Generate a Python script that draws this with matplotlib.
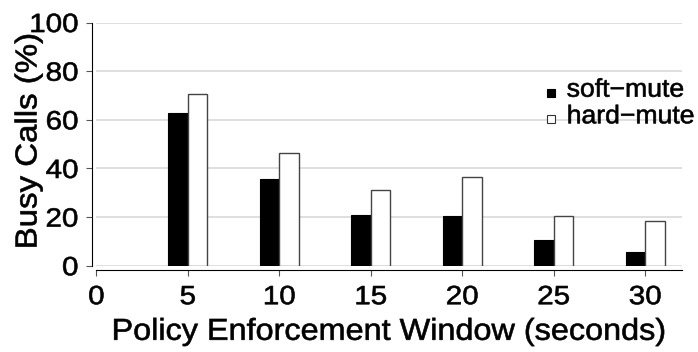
import matplotlib
matplotlib.use("Agg")

import matplotlib.pyplot as plt
import numpy as np
from matplotlib.patheffects import AbstractPathEffect
from matplotlib.transforms import Affine2D

# data
windows = [5, 10, 15, 20, 25, 30]
soft_mute = [63.0, 35.8, 20.9, 20.3, 10.4, 5.6]
hard_mute = [70.5, 46.5, 31.0, 36.6, 20.6, 18.4]
series_names = ["soft\u2212mute", "hard\u2212mute"]
x_ticks = [0, 5, 10, 15, 20, 25, 30]
y_ticks = [0, 20, 40, 60, 80, 100]

plt.rcParams["font.family"] = ["Liberation Sans", "DejaVu Sans"]


class Stretch(AbstractPathEffect):
    """widen glyphs along the text direction (the reference text is a bit wide)"""

    def __init__(self, sx=1.1, anchor="center", lw=0.45):
        super().__init__()
        self.sx = sx
        self.anchor = anchor
        self.lw = lw

    def draw_path(self, renderer, gc, tpath, affine, rgbFace=None):
        o = affine.transform([[0, 0], [1, 0]])
        theta = np.arctan2(o[1, 1] - o[0, 1], o[1, 0] - o[0, 0])
        bb = tpath.get_extents(affine)
        if self.anchor == "left":
            c = o[0]
        elif self.anchor == "right":
            c = (bb.x1, bb.y0)
        else:
            c = ((bb.x0 + bb.x1) / 2, (bb.y0 + bb.y1) / 2)
        st = (Affine2D().translate(-c[0], -c[1]).rotate(-theta)
              .scale(self.sx, 1).rotate(theta).translate(c[0], c[1]))
        gc0 = renderer.new_gc()
        gc0.copy_properties(gc)
        gc0.set_linewidth(self.lw)
        gc0.set_foreground(rgbFace)
        renderer.draw_path(gc0, tpath, affine + st, rgbFace)
        gc0.restore()


SX = 1.12

fig = plt.figure(figsize=(6.98, 3.52), dpi=100)
ax = fig.add_axes([0.138, 0.245, 0.8387, 0.691])

w = 1.07
x = np.array(windows, dtype=float)
ax.bar(x - w / 2, soft_mute, width=w, color="black", edgecolor="black",
       linewidth=0.8, zorder=3)
ax.bar(x + w / 2, hard_mute, width=w, color="white", edgecolor="#444444",
       linewidth=1.0, zorder=3)

# grid
for yv in y_ticks:
    ax.axhline(yv, color="#d6d6d6", linewidth=1.1, zorder=1)

ax.set_xlim(0, 32)
ax.set_ylim(0, 100)
ax.set_xticks(x_ticks)
ax.set_yticks(y_ticks)

for s in ["top", "right"]:
    ax.spines[s].set_visible(False)
ax.spines["left"].set_position(("outward", 3))
ax.spines["bottom"].set_position(("outward", 3))
ax.spines["left"].set_bounds(0, 100)
ax.spines["bottom"].set_bounds(0, 32)
ax.tick_params(axis="both", direction="out", length=4, width=0.8,
               labelsize=19, color="#555555")
ax.tick_params(axis="y", pad=6)
ax.tick_params(axis="x", pad=7)

for lbl in ax.get_xticklabels():
    lbl.set_path_effects([Stretch(SX, "center")])
for lbl in ax.get_yticklabels():
    lbl.set_path_effects([Stretch(SX, "right")])

ax.set_xlabel("Policy Enforcement Window (seconds)", fontsize=21.8,
              path_effects=[Stretch(1.07, "center")])
ax.set_ylabel("Busy Calls (%)", fontsize=21.8,
              path_effects=[Stretch(1.09, "center")])
ax.xaxis.set_label_coords(0.499, -0.214)
ax.yaxis.set_label_coords(-0.092, 0.512)

# legend, drawn like R's legend(): small square key + label
key_x, txt_x = 0.7767, 0.8035
rows_y = [0.709, 0.6046]
base_y = [0.6951, 0.5857]
styles = [("black", "black"), ("white", "#333333")]
for name, (fc, ec), ky, ty in zip(series_names, styles, rows_y, base_y):
    ax.plot([key_x], [ky], marker="s", markersize=5.6, markerfacecolor=fc,
            markeredgecolor=ec, markeredgewidth=0.8, linestyle="none",
            transform=ax.transAxes, clip_on=False, zorder=4)
    ax.text(txt_x, ty, name, transform=ax.transAxes, fontsize=18.4,
            ha="left", va="baseline", path_effects=[Stretch(1.04, "left")])

fig.savefig("out.png", dpi=100)
